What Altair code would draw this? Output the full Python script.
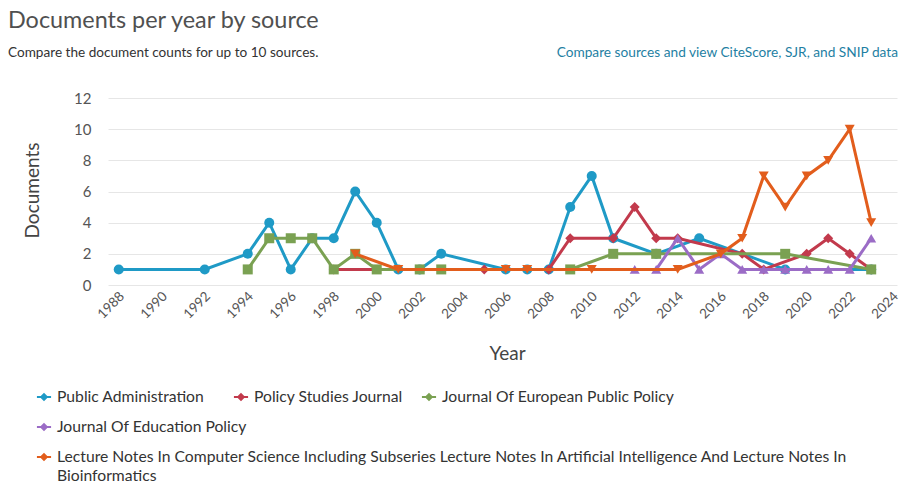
import altair as alt
import pandas as pd

# ---- data ----
series_names = [
    "Public Administration",
    "Policy Studies Journal",
    "Journal Of European Public Policy",
    "Journal Of Education Policy",
    "Lecture Notes In Computer Science Including Subseries Lecture Notes In Artificial Intelligence And Lecture Notes In Bioinformatics",
]
series_colors = ["#1f9ac6", "#c23a4c", "#7aa152", "#9b6cc6", "#e25d1c"]
series_shapes = ["circle", "diamond", "square", "triangle-up", "triangle-down"]

years_pa = [1988, 1992, 1994, 1995, 1996, 1997, 1998, 1999, 2000, 2001, 2002, 2003, 2006, 2007, 2008, 2009, 2010, 2011, 2013, 2015, 2019, 2023]
docs_pa = [1, 1, 2, 4, 1, 3, 3, 6, 4, 1, 1, 2, 1, 1, 1, 5, 7, 3, 2, 3, 1, 1]

years_psj = [1998, 2005, 2008, 2009, 2011, 2012, 2013, 2014, 2017, 2018, 2020, 2021, 2022, 2023]
docs_psj = [1, 1, 1, 3, 3, 5, 3, 3, 2, 1, 2, 3, 2, 1]

years_jepp = [1994, 1995, 1996, 1997, 1998, 1999, 2000, 2002, 2003, 2009, 2011, 2013, 2019, 2023]
docs_jepp = [1, 3, 3, 3, 1, 2, 1, 1, 1, 1, 2, 2, 2, 1]

years_jedp = [2012, 2013, 2014, 2015, 2016, 2017, 2018, 2019, 2020, 2021, 2022, 2023]
docs_jedp = [1, 1, 3, 1, 2, 1, 1, 1, 1, 1, 1, 3]

years_lncs = [1999, 2001, 2006, 2007, 2010, 2014, 2016, 2017, 2018, 2019, 2020, 2021, 2022, 2023]
docs_lncs = [2, 1, 1, 1, 1, 1, 2, 3, 7, 5, 7, 8, 10, 4]

x_ticks = list(range(1988, 2025, 2))
y_ticks = [0, 2, 4, 6, 8, 10, 12]

title_text = "Documents per year by source"
subtitle_text = "Compare the document counts for up to 10 sources."
link_text = "Compare sources and view CiteScore, SJR, and SNIP data"

# ---- layout ----
PAD_L, PAD_T = 108, 98
W, H = 789, 187
FONT = "Lato"

all_years = [years_pa, years_psj, years_jepp, years_jedp, years_lncs]
all_docs = [docs_pa, docs_psj, docs_jepp, docs_jedp, docs_lncs]

xscale = alt.Scale(domain=[1987.5, 2024.2], nice=False, zero=False)
yscale = alt.Scale(domain=[0, 12], nice=False)

x_axis = alt.Axis(
    values=x_ticks, format="d", grid=False, domain=False, ticks=False, tickSize=0,
    labelAngle=-45, labelAlign="center", labelBaseline="middle", labelPadding=20,
    labelOffset=-8, labelFontSize=13.5, labelColor="#555555", labelFont=FONT,
    title="Year", titleFont=FONT, titleFontSize=19, titleFontWeight="normal",
    titleColor="#444444", titleX=399, titleY=68, titleBaseline="middle",
)
y_axis = alt.Axis(
    values=y_ticks, grid=True, gridColor="#e6e6e6", domain=False, ticks=False, tickSize=0,
    labelPadding=17, labelFontSize=15, labelColor="#555555", labelFont=FONT,
    title="Documents", titleFont=FONT, titleFontSize=19, titleFontWeight="normal",
    titleColor="#444444", titleX=-76, titleY=92, titleAngle=270,
    titleAlign="center", titleBaseline="middle",
)

layers = []
for i, name in enumerate(series_names):
    df = pd.DataFrame({"Year": all_years[i], "Documents": all_docs[i], "Source": name})
    base = alt.Chart(df)
    x_enc = alt.X("Year:Q", scale=xscale, axis=x_axis)
    y_enc = alt.Y("Documents:Q", scale=yscale, axis=y_axis)
    line = base.mark_line(color=series_colors[i], strokeWidth=3).encode(
        x=x_enc, y=y_enc, order="Year:Q"
    )
    pts = base.mark_point(
        color=series_colors[i], fill=series_colors[i], filled=True, opacity=1,
        shape=series_shapes[i], size=100,
    ).encode(x=x_enc, y=y_enc)
    layers += [line, pts]


def rel_x(px):
    return px - PAD_L


def rel_y(py):
    return py - PAD_T


one = pd.DataFrame({"k": [0]})


def text_layer(txt, px, py, size, color, align="left", baseline="middle", weight="normal"):
    return alt.Chart(one).mark_text(
        text=txt, font=FONT, fontSize=size, color=color, align=align,
        baseline=baseline, fontWeight=weight,
    ).encode(x=alt.value(rel_x(px)), y=alt.value(rel_y(py)))


layers.append(text_layer(title_text, 8, 28, 23.4, "#505050", baseline="alphabetic"))
layers.append(text_layer(subtitle_text, 8, 53, 13.6, "#333333"))
layers.append(text_layer(link_text, 898, 53, 13.7, "#1f7fa3", align="right"))

# ---- manual legend (flowed rows like the reference) ----
legend_sym_x = [44, 241, 429, 44, 44]
legend_row_y = [397, 397, 397, 427, 457]
legend_label_lines = [
    [series_names[0]],
    [series_names[1]],
    [series_names[2]],
    [series_names[3]],
    ["Lecture Notes In Computer Science Including Subseries Lecture Notes In Artificial Intelligence And Lecture Notes In",
     "Bioinformatics"],
]
sym_path = "M-1,-0.13L1,-0.13L1,0.13L-1,0.13Z M0,-0.6L0.6,0L0,0.6L-0.6,0Z"
for i in range(len(series_names)):
    layers.append(
        alt.Chart(one).mark_point(
            shape=sym_path, filled=True, color=series_colors[i], opacity=1, size=200,
        ).encode(x=alt.value(rel_x(legend_sym_x[i])), y=alt.value(rel_y(legend_row_y[i])))
    )
    for j, ln in enumerate(legend_label_lines[i]):
        layers.append(text_layer(ln, legend_sym_x[i] + 13, legend_row_y[i] + 19 * j, 15.7, "#333333"))

chart = alt.layer(*layers).properties(
    width=W, height=H,
    background="white",
    autosize=alt.AutoSizeParams(type="none"),
    padding={"left": PAD_L, "top": PAD_T, "right": 902 - PAD_L - W, "bottom": 485 - PAD_T - H},
).configure_view(stroke=None)

chart.save("out.html", embed_options={"renderer": "svg", "actions": False})
